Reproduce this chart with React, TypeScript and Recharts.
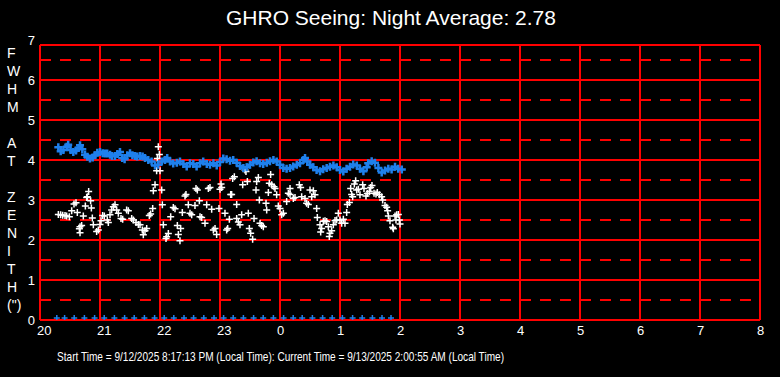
import { ScatterChart, Scatter, XAxis, YAxis, CartesianGrid } from 'recharts';

// FWHM at zenith, blue series (hour of night, arcsec)
const blueFwhm: [number, number][] = [
  [20.305, 4.32], [20.345, 4.22], [20.39, 4.25], [20.445, 4.33], [20.47, 4.38], [20.51, 4.25],
  [20.555, 4.2], [20.6, 4.24], [20.64, 4.3], [20.667, 4.37], [20.705, 4.27], [20.75, 4.13],
  [20.79, 4.08], [20.833, 4.04], [20.878, 4.06], [20.917, 4.12], [20.955, 4.18], [21.0, 4.2],
  [21.045, 4.17], [21.083, 4.16], [21.12, 4.16], [21.167, 4.13], [21.2, 4.1], [21.25, 4.1],
  [21.29, 4.15], [21.333, 4.2], [21.37, 4.05], [21.41, 4.02], [21.455, 4.12], [21.5, 4.17],
  [21.54, 4.12], [21.583, 4.1], [21.62, 4.09], [21.667, 4.1], [21.71, 4.09], [21.75, 4.05],
  [21.805, 4.0], [21.86, 3.96], [21.917, 3.86], [21.97, 3.88], [22.03, 3.96], [22.083, 4.0],
  [22.12, 4.05], [22.167, 3.96], [22.22, 3.91], [22.28, 3.93], [22.333, 3.96], [22.39, 3.9],
  [22.445, 3.84], [22.5, 3.92], [22.555, 3.9], [22.61, 3.84], [22.667, 3.92], [22.72, 3.96],
  [22.78, 3.9], [22.833, 3.88], [22.89, 3.92], [22.945, 3.86], [23.0, 3.95], [23.055, 4.04],
  [23.11, 4.02], [23.167, 3.98], [23.22, 4.0], [23.278, 3.93], [23.333, 3.85], [23.39, 3.8],
  [23.445, 3.82], [23.5, 3.88], [23.555, 3.94], [23.61, 3.97], [23.667, 3.92], [23.72, 3.9],
  [23.78, 3.93], [23.833, 3.97], [23.89, 4.0], [23.945, 3.96], [24.0, 3.88], [24.055, 3.8],
  [24.11, 3.78], [24.167, 3.8], [24.22, 3.84], [24.28, 3.88], [24.333, 3.92], [24.39, 4.0],
  [24.417, 4.05], [24.455, 3.96], [24.5, 3.88], [24.555, 3.82], [24.61, 3.75], [24.667, 3.72],
  [24.72, 3.77], [24.778, 3.8], [24.833, 3.83], [24.89, 3.86], [24.945, 3.82], [25.0, 3.75],
  [25.055, 3.71], [25.11, 3.78], [25.167, 3.83], [25.22, 3.89], [25.28, 3.86], [25.333, 3.78],
  [25.39, 3.72], [25.445, 3.82], [25.47, 3.92], [25.528, 3.97], [25.583, 3.93], [25.64, 3.8],
  [25.695, 3.69], [25.75, 3.74], [25.805, 3.78], [25.86, 3.76], [25.917, 3.83], [25.97, 3.78],
  [26.03, 3.76],
];

// seeing samples, white series
const whiteSeeing: [number, number][] = [
  [20.306, 2.64], [20.344, 2.63], [20.378, 2.62], [20.417, 2.61], [20.444, 2.6], [20.489, 2.58],
  [20.528, 2.73], [20.567, 2.9], [20.6, 2.93], [20.622, 2.69], [20.656, 2.28], [20.667, 2.33],
  [20.667, 2.18], [20.694, 2.36], [20.722, 2.6], [20.756, 2.85], [20.778, 3.06], [20.789, 3.08],
  [20.811, 3.21], [20.844, 2.98], [20.856, 2.8], [20.872, 2.55], [20.889, 2.38], [20.944, 2.21],
  [20.972, 2.25], [21.0, 2.39], [21.017, 2.48], [21.044, 2.61], [21.072, 2.6], [21.122, 2.5],
  [21.139, 2.44], [21.167, 2.63], [21.194, 2.75], [21.222, 2.83], [21.25, 2.88], [21.278, 2.75],
  [21.306, 2.67], [21.35, 2.54], [21.378, 2.52], [21.444, 2.75], [21.472, 2.73], [21.528, 2.54],
  [21.556, 2.5], [21.6, 2.44], [21.639, 2.39], [21.667, 2.38], [21.706, 2.25], [21.722, 2.13],
  [21.75, 2.23], [21.778, 2.29], [21.822, 2.61], [21.844, 2.65], [21.878, 2.79], [21.889, 3.23],
  [21.917, 3.38], [21.944, 3.73], [21.956, 4.04], [21.972, 4.33], [21.989, 4.14], [22.0, 3.73],
  [22.028, 3.25], [22.039, 2.88], [22.056, 2.38], [22.1, 2.04], [22.111, 2.08], [22.139, 2.16],
  [22.178, 2.58], [22.222, 2.81], [22.25, 2.78], [22.289, 2.36], [22.306, 2.14], [22.333, 1.98],
  [22.344, 2.29], [22.372, 2.69], [22.417, 3.1], [22.433, 3.14], [22.472, 2.88], [22.5, 2.67],
  [22.528, 2.63], [22.583, 2.86], [22.6, 3.29], [22.622, 3.25], [22.656, 2.98], [22.667, 2.58],
  [22.694, 2.56], [22.75, 2.42], [22.778, 2.88], [22.806, 3.29], [22.833, 3.31], [22.861, 2.77],
  [22.889, 2.25], [22.917, 2.29], [22.944, 2.14], [22.983, 2.79], [23.0, 3.27], [23.017, 3.4],
  [23.028, 3.31], [23.083, 2.67], [23.111, 2.25], [23.128, 2.29], [23.156, 2.52], [23.178, 3.14],
  [23.194, 3.14], [23.211, 3.54], [23.239, 3.58], [23.278, 2.89], [23.278, 2.54], [23.306, 2.45],
  [23.333, 2.38], [23.361, 2.63], [23.378, 3.38], [23.417, 3.75], [23.433, 3.71], [23.456, 3.46],
  [23.472, 2.67], [23.489, 2.29], [23.511, 2.17], [23.544, 2.02], [23.567, 2.54], [23.6, 3.25],
  [23.611, 3.46], [23.639, 3.56], [23.656, 3.0], [23.667, 2.42], [23.694, 2.36], [23.722, 2.33],
  [23.767, 2.92], [23.778, 2.75], [23.806, 3.19], [23.822, 3.42], [23.844, 3.64], [23.861, 3.38],
  [23.9, 3.33], [23.917, 3.29], [23.944, 3.13], [23.972, 2.85], [24.0, 2.79], [24.028, 2.63],
  [24.056, 2.67], [24.111, 2.96], [24.139, 3.17], [24.167, 3.29], [24.167, 3.14], [24.222, 3.04],
  [24.25, 3.06], [24.322, 3.38], [24.344, 3.31], [24.361, 3.08], [24.417, 3.04], [24.444, 2.92],
  [24.472, 2.89], [24.5, 3.25], [24.528, 3.08], [24.556, 3.23], [24.583, 3.13], [24.611, 2.79],
  [24.622, 2.56], [24.667, 2.38], [24.678, 2.2], [24.694, 2.29], [24.722, 2.47], [24.75, 2.48],
  [24.778, 2.46], [24.806, 2.33], [24.822, 2.09], [24.833, 2.17], [24.861, 2.23], [24.889, 2.38],
  [24.917, 2.49], [24.944, 2.5], [24.972, 2.67], [25.0, 2.5], [25.028, 2.42], [25.056, 2.52],
  [25.083, 2.42], [25.111, 2.69], [25.122, 2.89], [25.156, 2.94], [25.178, 3.29], [25.194, 3.14],
  [25.211, 3.08], [25.239, 3.4], [25.261, 3.48], [25.278, 3.25], [25.306, 3.27], [25.333, 3.13],
  [25.378, 3.38], [25.4, 3.29], [25.433, 3.1], [25.456, 3.16], [25.489, 3.21], [25.511, 3.31],
  [25.533, 3.36], [25.567, 3.17], [25.6, 3.15], [25.622, 3.19], [25.656, 3.13], [25.694, 3.08],
  [25.711, 3.0], [25.75, 2.86], [25.778, 2.82], [25.794, 2.73], [25.806, 2.6], [25.833, 2.48],
  [25.878, 2.32], [25.889, 2.28], [25.917, 2.6], [25.933, 2.5], [25.944, 2.63], [25.972, 2.64],
  [25.989, 2.5], [26.0, 2.4],
];

// sample time marks along the bottom
const markHours = [
  20.28, 20.41, 20.57, 20.74, 20.91, 21.07, 21.24, 21.41, 21.57, 21.74, 21.91, 22.07, 22.23,
  22.4, 22.56, 22.73, 22.9, 23.06, 23.22, 23.39, 23.56, 23.72, 23.89, 24.06, 24.22, 24.37,
  24.54, 24.71, 24.87, 25.04, 25.21, 25.37, 25.54, 25.7, 25.85,
];
const markLevel = 0.05;

const hourTicks = [20, 21, 22, 23, 24, 25, 26, 27, 28, 29, 30, 31, 32];
const fwhmTicks = [0, 1, 2, 3, 4, 5, 6, 7];
const solidRows = [0, 1, 2, 3, 4, 5, 6, 6.875];
const dashedRows = [0.5, 1.5, 2.5, 3.5, 4.5, 5.5, 6.5];
const yTitle = ['F', 'W', 'H', 'M', '', 'A', 'T', '', 'Z', 'E', 'N', 'I', 'T', 'H', '(")'];

const TITLE = 'GHRO Seeing: Night Average: 2.78';
const FOOTER =
  'Start Time = 9/12/2025 8:17:13 PM (Local Time): Current Time = 9/13/2025 2:00:55 AM (Local Time)';

const FONT = '"Liberation Sans", Arial, sans-serif';
const BLUE = '#1f80ec';

const toPoints = (arr: [number, number][]) => arr.map(([h, v]) => ({ h, v }));
const bluePoints = toPoints(blueFwhm);
const whitePoints = toPoints(whiteSeeing);
const markPoints = markHours.map((h) => ({ h, v: markLevel }));

function plusShape(color: string, arm: number, width: number) {
  return (props: any) => {
    const { cx, cy } = props;
    if (cx == null || cy == null) return <g />;
    return (
      <path
        d={`M${cx - arm},${cy}H${cx + arm}M${cx},${cy - arm}V${cy + arm}`}
        stroke={color}
        strokeWidth={width}
        fill="none"
      />
    );
  };
}

const renderHourTick = (props: any) => {
  const { x, y, payload } = props;
  return (
    <text x={x - 3} y={y + 15} fill="#fff" fontSize={13} fontFamily={FONT} textAnchor="start">
      {payload.value % 24}
    </text>
  );
};

const renderFwhmTick = (props: any) => {
  const { x, y, payload } = props;
  return (
    <text x={x - 5} y={y + 4.7} fill="#fff" fontSize={13} fontFamily={FONT} textAnchor="end">
      {payload.value}
    </text>
  );
};

export default function App() {
  return (
    <div style={{ position: 'absolute', left: 0, top: 0, width: 780, height: 377, background: '#000' }}>
      <ScatterChart width={780} height={377} margin={{ top: 45, right: 20, bottom: 0, left: 0 }}>
        <CartesianGrid
          horizontalValues={dashedRows}
          vertical={false}
          stroke="#ff0000"
          strokeWidth={2}
          strokeDasharray="11 9"
        />
        <CartesianGrid
          horizontalValues={solidRows}
          verticalValues={hourTicks}
          stroke="#ff0000"
          strokeWidth={2}
        />
        <XAxis
          type="number"
          dataKey="h"
          domain={[20, 32]}
          ticks={hourTicks}
          interval={0}
          allowDataOverflow
          axisLine={false}
          tickLine={false}
          tickSize={0}
          tickMargin={0}
          height={57}
          tick={renderHourTick}
        />
        <YAxis
          type="number"
          dataKey="v"
          domain={[0, 6.875]}
          ticks={fwhmTicks}
          interval={0}
          allowDataOverflow
          axisLine={false}
          tickLine={false}
          tickSize={0}
          tickMargin={0}
          width={40}
          tick={renderFwhmTick}
        />
        <Scatter data={markPoints} isAnimationActive={false} shape={plusShape(BLUE, 3, 1.5)} />
        <Scatter data={whitePoints} isAnimationActive={false} shape={plusShape('#ffffff', 3.5, 1.5)} />
        <Scatter data={bluePoints} isAnimationActive={false} shape={plusShape(BLUE, 4, 2.5)} />
      </ScatterChart>
      <svg
        width={780}
        height={377}
        style={{ position: 'absolute', left: 0, top: 0, pointerEvents: 'none' }}
      >
        <text x={391} y={25} fill="#fff" fontSize={21} fontFamily={FONT} textAnchor="middle">
          {TITLE}
        </text>
        {yTitle.map((ch, i) => (
          <text key={i} x={7} y={58 + 18 * i} fill="#fff" fontSize={14} fontFamily={FONT}>
            {ch}
          </text>
        ))}
        <text
          x={57}
          y={360.5}
          fill="#fff"
          fontSize={13}
          fontFamily={'"Liberation Sans Narrow", ' + FONT}
          textLength={447}
          lengthAdjust="spacingAndGlyphs"
        >
          {FOOTER}
        </text>
      </svg>
    </div>
  );
}
